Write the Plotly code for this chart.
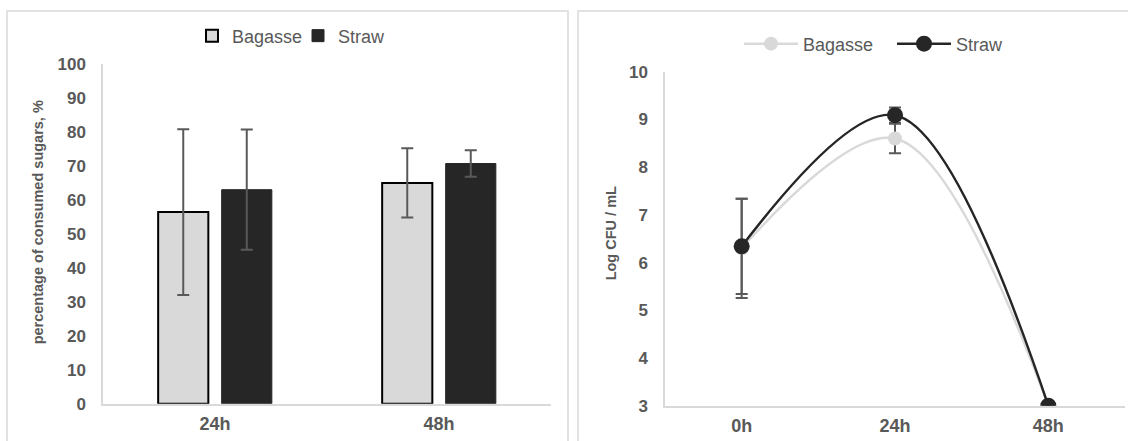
import plotly.graph_objects as go

# ---- data ----
bar_categories = ["24h", "48h"]
bagasse_sugar = [56.4, 65.0]
bagasse_sugar_err = [24.4, 10.2]
straw_sugar = [63.0, 70.7]
straw_sugar_err = [17.7, 3.9]

cfu_categories = ["0h", "24h", "48h"]
bagasse_cfu = [6.30, 8.60, 3.00]
bagasse_cfu_err = [1.04, 0.31, 0.0]
straw_cfu = [6.34, 9.09, 3.00]
straw_cfu_err = [1.00, 0.16, 0.0]

W, H = 1128, 452
FONT = "Liberation Sans, Arial, sans-serif"
TXT = "#595959"
LIGHT = "#d9d9d9"
DARK = "#262626"
ERR = "#595959"

# observed vertical mapping of the photographed page: img_y = 0.956 * fig_y + 9.1
SY, OY = 0.956, 9.1

def px(x):
    return x / W

def py(y_img):
    y_fig = (y_img - OY) / SY
    return 1 - y_fig / H

fig = go.Figure()

fig.add_trace(go.Bar(
    x=bar_categories, y=bagasse_sugar, name="Bagasse",
    marker=dict(color=LIGHT, line=dict(color="#000000", width=2)),
    error_y=dict(type="data", array=bagasse_sugar_err, color=ERR, thickness=2, width=6),
    xaxis="x", yaxis="y", legend="legend",
))
fig.add_trace(go.Bar(
    x=bar_categories, y=straw_sugar, name="Straw",
    marker=dict(color=DARK, line=dict(color=DARK, width=1)),
    error_y=dict(type="data", array=straw_sugar_err, color=ERR, thickness=2, width=6),
    xaxis="x", yaxis="y", legend="legend",
))

fig.add_trace(go.Scatter(
    x=cfu_categories, y=bagasse_cfu, name="Bagasse", mode="lines+markers",
    line=dict(color=LIGHT, width=2.5, shape="spline", smoothing=1),
    marker=dict(color=LIGHT, size=14),
    error_y=dict(type="data", array=bagasse_cfu_err, color=ERR, thickness=2, width=6),
    xaxis="x2", yaxis="y2", legend="legend2",
))
fig.add_trace(go.Scatter(
    x=cfu_categories, y=straw_cfu, name="Straw", mode="lines+markers",
    line=dict(color=DARK, width=2.5, shape="spline", smoothing=1),
    marker=dict(color=DARK, size=16),
    error_y=dict(type="data", array=straw_cfu_err, color=ERR, thickness=2, width=6),
    xaxis="x2", yaxis="y2", legend="legend2",
))

tickfont_y = dict(family=FONT, size=17, color=TXT, weight="bold")
tickfont_x = dict(family=FONT, size=18, color=TXT, weight="bold")
titlefont = dict(family=FONT, size=14.5, color=TXT, weight="bold")

fig.update_layout(
    width=W, height=H,
    margin=dict(l=0, r=0, t=0, b=0),
    paper_bgcolor="white", plot_bgcolor="white",
    barmode="group", bargap=0.433, bargroupgap=0.21,
    xaxis=dict(domain=[px(103), px(551)], anchor="y", range=[-0.5, 1.5],
               showline=True, linecolor=LIGHT, linewidth=1.5, showgrid=False,
               ticks="outside", ticklen=3, tickcolor="rgba(0,0,0,0)",
               tickfont=tickfont_x, zeroline=False),
    yaxis=dict(domain=[py(403), py(64)], anchor="x", range=[0, 100], dtick=10,
               showline=True, linecolor=LIGHT, linewidth=1.5, showgrid=False,
               zeroline=False, ticks="outside", ticklen=12, tickcolor="rgba(0,0,0,0)",
               tickfont=tickfont_y),
    xaxis2=dict(domain=[px(665), px(1125)], anchor="y2", range=[-0.5, 2.5],
                showline=True, linecolor=LIGHT, linewidth=1.5, showgrid=False,
                ticks="outside", ticklen=3, tickcolor="rgba(0,0,0,0)",
                tickfont=tickfont_x, zeroline=False),
    yaxis2=dict(domain=[py(405), py(71.7)], anchor="x2", range=[3, 10], dtick=1,
                showline=True, linecolor=LIGHT, linewidth=1.5, showgrid=False,
                zeroline=False, ticks="outside", ticklen=12, tickcolor="rgba(0,0,0,0)",
                tickfont=tickfont_y),
    legend=dict(orientation="h", x=px(192), xanchor="left", y=py(36), yanchor="middle",
                font=dict(family=FONT, size=18, color=TXT), itemwidth=30,
                entrywidth=61, bgcolor="rgba(0,0,0,0)"),
    legend2=dict(orientation="h", x=px(739), xanchor="left", y=py(44), yanchor="middle",
                 font=dict(family=FONT, size=18, color=TXT), itemwidth=54,
                 entrywidth=84, bgcolor="rgba(0,0,0,0)"),
    annotations=[
        dict(text="percentage of consumed sugars, %", textangle=-90, showarrow=False,
             xref="paper", yref="paper", x=px(38), y=py(222), xanchor="center", yanchor="middle",
             font=titlefont),
        dict(text="Log CFU / mL", textangle=-90, showarrow=False,
             xref="paper", yref="paper", x=px(611), y=py(233), xanchor="center", yanchor="middle",
             font=titlefont),
    ],
    shapes=[
        dict(type="rect", xref="paper", yref="paper", x0=px(7), x1=px(568), y0=-0.2, y1=py(11),
             line=dict(color=LIGHT, width=1.5), layer="below"),
        dict(type="rect", xref="paper", yref="paper", x0=px(578), x1=px(1140), y0=-0.2, y1=py(11),
             line=dict(color=LIGHT, width=1.5), layer="below"),
    ],
)

fig.write_html("out.html")
